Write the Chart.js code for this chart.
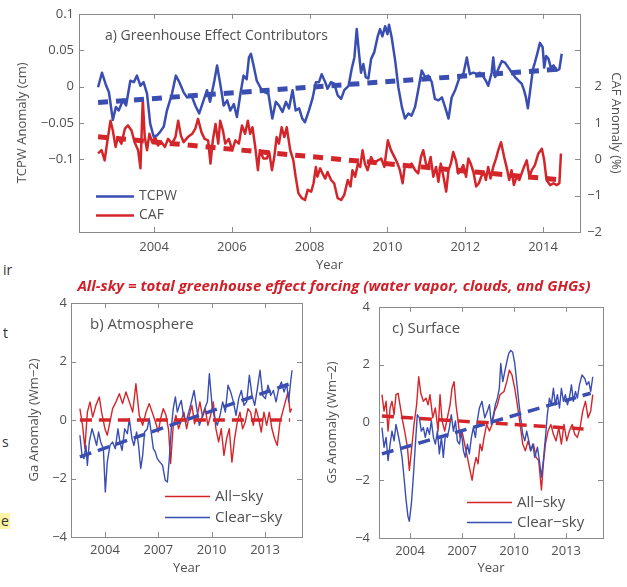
<!DOCTYPE html>
<html>
<head>
<meta charset="utf-8">
<script src="https://cdn.jsdelivr.net/npm/chart.js@4.4.1/dist/chart.umd.min.js"></script>
<style>
  body { margin: 0; background: #fff; width: 627px; height: 587px; position: relative; overflow: hidden; font-family: 'Open Sans', sans-serif; }
  canvas { position: absolute; }
  .frag { position: absolute; font-size: 14px; color: #333; line-height: 16px; }
  #caption { position: absolute; left: 0; top: 275px; width: 668px; text-align: center; color: #d0202a;
             font: italic bold 15px 'Open Sans', sans-serif; line-height: 20px; }
</style>
</head>
<body>
<div class="frag" style="left:3px;top:262px">ir</div>
<div class="frag" style="left:3px;top:325px">t</div>
<div class="frag" style="left:2px;top:434px">s</div>
<div class="frag" style="left:0;top:513px;background:#fbf3a6;padding:0 1px">e</div>
<canvas id="chartA" width="627" height="278" style="left:0;top:0"></canvas>
<canvas id="chartB" width="310" height="297" style="left:0;top:290px"></canvas>
<canvas id="chartC" width="317" height="297" style="left:310px;top:290px"></canvas>
<div id="caption">All-sky = total greenhouse effect forcing (water vapor, clouds, and GHGs)</div>
<script>
// ---- a) Greenhouse Effect Contributors ----
const tcpwYears = [
  2002.56, 2002.66, 2002.77, 2002.84, 2002.94, 2003.02, 2003.09, 2003.20, 2003.28, 2003.39,
  2003.48, 2003.56, 2003.65, 2003.73, 2003.82, 2003.90, 2003.99, 2004.08, 2004.16, 2004.25,
  2004.33, 2004.46, 2004.56, 2004.65, 2004.76, 2004.85, 2004.96, 2005.06, 2005.16, 2005.26,
  2005.36, 2005.44, 2005.55, 2005.62, 2005.70, 2005.79, 2005.88, 2005.96, 2006.05, 2006.13,
  2006.22, 2006.30, 2006.38, 2006.44, 2006.49, 2006.55, 2006.64, 2006.75, 2006.85, 2006.94,
  2007.04, 2007.13, 2007.21, 2007.30, 2007.39, 2007.47, 2007.56, 2007.64, 2007.73, 2007.81,
  2007.88, 2007.98, 2008.07, 2008.16, 2008.24, 2008.31, 2008.40, 2008.46, 2008.55, 2008.63,
  2008.72, 2008.81, 2008.89, 2009.00, 2009.08, 2009.15, 2009.21, 2009.27, 2009.32, 2009.38,
  2009.44, 2009.51, 2009.58, 2009.66, 2009.75, 2009.81, 2009.87, 2009.94, 2010.00, 2010.04,
  2010.11, 2010.20, 2010.28, 2010.37, 2010.45, 2010.54, 2010.62, 2010.71, 2010.79, 2010.88,
  2010.97, 2011.05, 2011.14, 2011.22, 2011.31, 2011.40, 2011.48, 2011.57, 2011.65, 2011.74,
  2011.87, 2011.95, 2012.04, 2012.12, 2012.21, 2012.30, 2012.38, 2012.47, 2012.53, 2012.59,
  2012.68, 2012.72, 2012.77, 2012.85, 2012.94, 2013.02, 2013.11, 2013.20, 2013.28, 2013.37,
  2013.45, 2013.51, 2013.56, 2013.61, 2013.67, 2013.74, 2013.79, 2013.85, 2013.92, 2013.99,
  2014.03, 2014.08, 2014.14, 2014.20, 2014.27, 2014.35, 2014.42, 2014.48
];
const tcpwValues = [
  -0.001, 0.019, 0.001, -0.008, -0.046, -0.028, -0.033, -0.019, -0.026, 0.008,
  0.006, 0.015, 0.001, 0.006, -0.010, -0.051, -0.069, -0.067, -0.062, -0.055,
  -0.033, -0.010, 0.015, 0.006, -0.008, -0.015, -0.012, -0.026, -0.037, -0.021,
  -0.005, -0.021, 0.008, 0.029, 0.004, -0.026, -0.019, -0.033, -0.024, -0.042,
  -0.010, 0.015, 0.010, 0.040, 0.045, 0.031, 0.008, -0.003, -0.008, -0.010,
  -0.044, -0.021, -0.026, -0.035, -0.021, -0.030, -0.005, -0.033, -0.030, -0.044,
  -0.049, -0.033, -0.017, 0.006, 0.006, 0.017, 0.006, -0.003, 0.006, 0.004,
  -0.012, -0.017, -0.005, 0.001, 0.024, 0.040, 0.079, 0.045, 0.019, 0.031,
  0.013, 0.011, 0.038, 0.047, 0.069, 0.079, 0.069, 0.083, 0.072, 0.085,
  0.067, 0.035, -0.001, -0.028, -0.044, -0.037, -0.040, -0.028, -0.005, 0.022,
  0.013, 0.015, 0.006, -0.017, -0.019, -0.015, -0.028, -0.044, -0.015, -0.005,
  0.015, 0.017, 0.040, 0.017, 0.019, 0.017, 0.019, 0.013, 0.008, 0.001,
  0.019, 0.040, 0.013, 0.024, 0.035, 0.033, 0.026, 0.019, 0.013, 0.008,
  0.004, -0.005, -0.015, -0.030, -0.005, 0.024, 0.033, 0.045, 0.060, 0.054,
  0.026, 0.042, 0.038, 0.026, 0.029, 0.022, 0.024, 0.045
];
const cafYears = [
  2002.56, 2002.65, 2002.73, 2002.79, 2002.88, 2002.94, 2003.01, 2003.07, 2003.16, 2003.25,
  2003.33, 2003.42, 2003.50, 2003.59, 2003.65, 2003.71, 2003.76, 2003.82, 2003.88, 2003.95,
  2004.03, 2004.10, 2004.19, 2004.28, 2004.36, 2004.46, 2004.55, 2004.62, 2004.69, 2004.76,
  2004.87, 2004.98, 2005.06, 2005.13, 2005.22, 2005.30, 2005.39, 2005.45, 2005.51, 2005.58,
  2005.65, 2005.70, 2005.77, 2005.83, 2005.92, 2006.01, 2006.09, 2006.18, 2006.26, 2006.34,
  2006.41, 2006.47, 2006.53, 2006.60, 2006.67, 2006.72, 2006.81, 2006.90, 2006.96, 2007.03,
  2007.09, 2007.15, 2007.21, 2007.28, 2007.35, 2007.41, 2007.50, 2007.58, 2007.64, 2007.71,
  2007.80, 2007.88, 2007.95, 2008.04, 2008.10, 2008.16, 2008.20, 2008.27, 2008.33, 2008.40,
  2008.46, 2008.55, 2008.63, 2008.72, 2008.81, 2008.89, 2008.98, 2009.05, 2009.10, 2009.17,
  2009.24, 2009.30, 2009.36, 2009.42, 2009.49, 2009.58, 2009.66, 2009.75, 2009.84, 2009.92,
  2010.01, 2010.09, 2010.18, 2010.26, 2010.32, 2010.39, 2010.45, 2010.54, 2010.62, 2010.71,
  2010.79, 2010.86, 2010.92, 2010.99, 2011.05, 2011.11, 2011.18, 2011.25, 2011.31, 2011.37,
  2011.44, 2011.51, 2011.57, 2011.63, 2011.69, 2011.76, 2011.82, 2011.88, 2011.95, 2012.02,
  2012.08, 2012.14, 2012.21, 2012.28, 2012.35, 2012.41, 2012.48, 2012.53, 2012.59, 2012.65,
  2012.72, 2012.79, 2012.85, 2012.92, 2013.00, 2013.07, 2013.13, 2013.19, 2013.25, 2013.32,
  2013.39, 2013.45, 2013.51, 2013.58, 2013.65, 2013.71, 2013.79, 2013.88, 2013.97, 2014.03,
  2014.09, 2014.18, 2014.27, 2014.35, 2014.42, 2014.46
];
const cafValues = [
  0.16, 0.25, -0.03, 0.43, 1.06, 0.79, 0.34, 0.61, 0.43, 0.84,
  0.93, 0.79, 0.47, 0.25, -0.25, 1.65, 0.61, 0.25, 0.70, 0.47,
  0.61, 0.38, 0.47, 0.34, 0.56, 0.43, 0.61, 1.06, 0.65, 0.47,
  0.61, 0.70, 0.84, 1.11, 0.74, 0.56, 0.52, -0.12, 0.52, 0.97,
  0.43, 1.06, 0.79, 0.43, 0.56, 0.25, 0.52, 0.43, 0.93, 0.70,
  1.06, 0.70, 0.88, 0.34, -0.30, 0.25, 0.02, 0.02, 0.20, -0.30,
  0.06, 0.61, 0.43, 0.88, 0.61, 0.88, 0.25, -0.03, -0.48, -0.93,
  -1.07, -1.12, -0.84, -0.89, -0.66, -0.21, -0.48, -0.25, -0.39, -0.53,
  -0.35, -0.57, -0.66, -1.07, -1.12, -0.98, -0.57, -0.75, -0.30, -0.48,
  -0.12, -0.21, 0.25, -0.12, -0.30, 0.06, -0.12, -0.03, 0.02, -0.21,
  0.52, 0.25, 0.06, -0.12, -0.30, -0.66, -0.16, -0.21, -0.12, -0.30,
  -0.39, 0.06, 0.25, -0.12, -0.21, 0.06, -0.48, -0.21, -0.62, -0.12,
  -0.48, -0.89, -0.30, -0.12, 0.20, -0.03, -0.39, -0.30, -0.16, -0.48,
  0.02, -0.12, -0.35, -0.75, -0.66, -0.48, -0.35, -0.57, -0.21, -0.53,
  -0.21, 0.02, 0.25, 0.47, 0.06, -0.25, -0.57, -0.30, -0.71, -0.48,
  -0.57, -0.39, -0.21, -0.03, -0.48, -0.30, -0.16, 0.16, 0.29, -0.03,
  -0.57, -0.71, -0.66, -0.71, -0.66, 0.16
];
const trendYearsA = [2002.56, 2014.46];
const tcpwTrend = [-0.022, 0.024];
const cafTrend = [0.62, -0.57];
const yearTicksA = [2004, 2006, 2008, 2010, 2012, 2014];
const tcpwTicks = [-0.1, -0.05, 0, 0.05, 0.1];
const cafTicks = [-2, -1, 0, 1, 2, 3];
const cafTickLabels = ['\u22122', '\u22121', '0', '1', '2', ''];

// ---- b) Atmosphere ----
const atmAllYears = [
  2002.59, 2002.74, 2002.87, 2003.01, 2003.16, 2003.31, 2003.49, 2003.68, 2003.81, 2004.00,
  2004.13, 2004.28, 2004.43, 2004.62, 2004.81, 2004.99, 2005.18, 2005.37, 2005.56, 2005.74,
  2005.93, 2006.12, 2006.31, 2006.49, 2006.68, 2006.87, 2007.00, 2007.13, 2007.28, 2007.43,
  2007.58, 2007.69, 2007.84, 2007.99, 2008.14, 2008.29, 2008.44, 2008.59, 2008.74, 2008.89,
  2009.04, 2009.19, 2009.34, 2009.49, 2009.64, 2009.79, 2009.94, 2010.09, 2010.24, 2010.39,
  2010.54, 2010.69, 2010.84, 2010.99, 2011.14, 2011.29, 2011.44, 2011.59, 2011.74, 2011.89,
  2012.04, 2012.19, 2012.34, 2012.49, 2012.64, 2012.79, 2012.94, 2013.09, 2013.24, 2013.39,
  2013.54, 2013.69, 2013.84, 2013.99, 2014.14, 2014.29, 2014.41, 2014.50
];
const atmAllSky = [
  0.39, -0.18, -0.98, 0.27, 0.62, 0.10, 0.50, 0.79, 0.27, -0.30,
  -0.52, -0.07, 0.39, 0.62, 0.90, 0.56, 0.96, 0.62, 0.27, 1.24,
  0.16, -0.18, 0.27, 0.56, 0.22, -0.13, -0.41, 0.05, 0.39, 0.16,
  -0.35, -1.49, -0.18, 0.16, -0.30, -0.01, 0.27, -0.30, 0.16, 0.50,
  -0.13, 0.16, 0.62, 0.10, 0.39, -0.18, 0.16, 0.62, -0.30, -0.75,
  -0.30, -1.21, -0.64, -0.30, -1.44, -0.64, -0.07, 0.27, -0.30, -0.07,
  0.39, 0.27, -0.18, 0.39, 0.05, -0.41, 0.27, -0.18, 0.27, -0.30,
  -0.64, -0.87, -0.07, 0.27, 0.62, 0.96, 0.27, 0.39
];
const atmClearYears = [
  2002.59, 2002.71, 2002.82, 2002.93, 2003.01, 2003.12, 2003.27, 2003.38, 2003.53, 2003.64,
  2003.76, 2003.91, 2004.02, 2004.13, 2004.28, 2004.43, 2004.58, 2004.73, 2004.84, 2004.96,
  2005.11, 2005.26, 2005.37, 2005.52, 2005.63, 2005.78, 2005.89, 2006.01, 2006.12, 2006.23,
  2006.38, 2006.49, 2006.61, 2006.72, 2006.83, 2006.94, 2007.09, 2007.24, 2007.39, 2007.51,
  2007.62, 2007.73, 2007.84, 2007.96, 2008.07, 2008.18, 2008.29, 2008.41, 2008.56, 2008.71,
  2008.86, 2009.01, 2009.16, 2009.31, 2009.46, 2009.61, 2009.76, 2009.87, 2010.02, 2010.17,
  2010.32, 2010.47, 2010.62, 2010.77, 2010.92, 2011.07, 2011.22, 2011.37, 2011.52, 2011.67,
  2011.82, 2011.97, 2012.12, 2012.27, 2012.42, 2012.57, 2012.72, 2012.87, 2013.02, 2013.17,
  2013.32, 2013.47, 2013.62, 2013.77, 2013.92, 2014.07, 2014.22, 2014.33, 2014.44, 2014.52
];
const atmClearSky = [
  -0.52, -1.21, -1.32, -0.87, -1.55, -0.75, -0.30, -0.52, -0.87, -0.41,
  -0.75, -0.98, -2.46, -1.44, -0.87, -0.75, -0.98, -0.30, -0.75, -1.04,
  -0.30, -0.47, 0.05, -0.64, -0.87, -0.41, -0.87, -1.66, -1.21, -0.41,
  -0.30, 0.05, -0.47, -0.98, -1.09, -1.32, -1.44, -1.55, -2.06, -2.12,
  -1.32, -0.30, 0.39, 0.79, 0.27, 0.50, 0.67, 0.16, -0.07, 0.27,
  0.62, 1.01, 0.39, -0.18, 0.10, 0.39, 0.62, 1.58, 0.50, 0.05,
  -0.18, 0.16, 0.62, 0.27, 1.19, 0.96, 0.62, 0.16, 0.73, 1.01,
  0.50, 0.62, 1.53, 0.84, 0.50, 1.07, 1.70, 0.84, 0.73, 1.19,
  0.84, 1.01, 0.62, 1.07, 1.30, 0.96, 1.24, 0.62, 1.30, 1.70
];
const atmTrendYears = [2002.59, 2014.41];
const atmAllTrend = [0.0, 0.0];
const atmClearTrend = [-1.26, 1.24];

// ---- c) Surface ----
const sfcAllYears = [
  2002.38, 2002.50, 2002.62, 2002.73, 2002.85, 2002.96, 2003.08, 2003.19, 2003.31, 2003.42,
  2003.54, 2003.69, 2003.85, 2003.96, 2004.08, 2004.23, 2004.38, 2004.50, 2004.62, 2004.77,
  2004.92, 2005.04, 2005.15, 2005.31, 2005.46, 2005.62, 2005.73, 2005.85, 2006.00, 2006.15,
  2006.31, 2006.42, 2006.54, 2006.65, 2006.77, 2006.88, 2007.00, 2007.15, 2007.31, 2007.46,
  2007.58, 2007.69, 2007.81, 2007.92, 2008.04, 2008.15, 2008.27, 2008.42, 2008.58, 2008.73,
  2008.88, 2009.04, 2009.19, 2009.42, 2009.58, 2009.73, 2009.88, 2010.04, 2010.19, 2010.35,
  2010.50, 2010.65, 2010.81, 2010.96, 2011.12, 2011.27, 2011.42, 2011.58, 2011.69, 2011.81,
  2011.96, 2012.12, 2012.27, 2012.42, 2012.58, 2012.73, 2012.88, 2013.04, 2013.19, 2013.35,
  2013.50, 2013.65, 2013.81, 2013.96, 2014.12, 2014.27, 2014.42, 2014.54
];
const sfcAllSky = [
  0.96, 0.39, 0.73, -0.30, 0.50, 0.73, 0.27, 0.96, 1.01, 0.61,
  0.16, -0.30, -0.86, -1.66, -0.98, -0.07, 0.61, 1.58, 1.01, 0.73,
  0.84, 0.61, 0.96, 0.16, 0.50, -0.30, 0.96, 0.05, -0.30, 0.16,
  0.61, 1.18, 1.41, 0.61, 0.05, -0.52, -0.30, -0.75, -1.21, -1.66,
  -2.00, -1.55, -1.21, -1.43, -0.75, -0.98, -0.52, -0.07, -0.30, -0.07,
  0.39, 0.61, 0.96, 1.07, 1.41, 1.81, 1.64, 1.18, 0.61, -0.07,
  -0.75, -0.98, -0.64, -0.98, -0.75, -1.21, -1.32, -2.34, -1.43, -0.75,
  -0.30, -0.07, -0.41, -0.64, -0.18, -0.75, -0.07, -0.64, -0.30, -0.07,
  -0.41, -0.52, -0.18, 0.39, 0.73, 0.16, 0.39, 0.96
];
const sfcClearYears = [
  2002.38, 2002.50, 2002.62, 2002.73, 2002.85, 2002.96, 2003.08, 2003.19, 2003.31, 2003.42,
  2003.54, 2003.65, 2003.77, 2003.88, 2003.96, 2004.08, 2004.19, 2004.31, 2004.42, 2004.54,
  2004.65, 2004.77, 2004.88, 2005.00, 2005.12, 2005.23, 2005.35, 2005.46, 2005.58, 2005.69,
  2005.81, 2005.92, 2006.04, 2006.15, 2006.27, 2006.38, 2006.50, 2006.62, 2006.73, 2006.85,
  2006.96, 2007.08, 2007.19, 2007.31, 2007.42, 2007.54, 2007.65, 2007.77, 2007.88, 2008.00,
  2008.15, 2008.31, 2008.46, 2008.58, 2008.69, 2008.81, 2008.92, 2009.04, 2009.15, 2009.23,
  2009.35, 2009.46, 2009.58, 2009.69, 2009.81, 2009.92, 2010.04, 2010.15, 2010.27, 2010.38,
  2010.50, 2010.62, 2010.73, 2010.85, 2010.96, 2011.08, 2011.19, 2011.35, 2011.46, 2011.58,
  2011.69, 2011.81, 2011.92, 2012.04, 2012.15, 2012.27, 2012.38, 2012.50, 2012.62, 2012.73,
  2012.85, 2012.96, 2013.08, 2013.19, 2013.31, 2013.42, 2013.54, 2013.65, 2013.77, 2013.92,
  2014.08, 2014.19, 2014.31, 2014.42, 2014.54
];
const sfcClearSky = [
  -0.18, -0.86, -0.52, -1.32, -0.75, -0.30, -0.64, -0.07, -0.41, -0.75,
  -1.21, -1.89, -2.68, -3.25, -3.42, -2.80, -1.89, -0.75, 0.27, 0.16,
  -0.30, -0.18, -0.52, -0.18, -0.41, 0.05, -0.52, -0.75, -0.30, -1.09,
  -0.52, -1.21, -0.41, -0.52, -0.18, 0.27, -0.30, 0.05, -0.64, -0.75,
  -0.30, -0.98, -1.21, -0.75, -1.09, -0.52, -0.18, -0.52, 0.05, 0.50,
  0.73, 0.16, 0.39, 0.61, -0.07, 0.27, 0.61, 0.84, 1.18, 2.04,
  1.41, 1.75, 2.09, 2.38, 2.49, 2.43, 2.04, 1.41, 0.73, 0.16,
  -0.41, -0.64, -0.30, -0.64, -0.98, -0.75, -1.21, -0.86, -1.32, -1.89,
  -1.32, -0.52, 0.27, 0.84, 0.61, 1.18, 0.61, 0.96, 0.50, 1.18,
  0.73, 0.96, 0.61, 0.84, 1.30, 0.73, 1.07, 0.84, 1.30, 1.64,
  1.52, 1.30, 1.41, 1.07, 1.58
];
const sfcTrendYears = [2002.38, 2014.42];
const sfcAllTrend = [0.22, -0.24];
const sfcClearTrend = [-1.09, 1.01];

const yearTicksBC = [2004, 2007, 2010, 2013];
const gTicks = [-4, -2, 0, 2, 4];

const BLUE = 'rgb(58,78,178)';
const RED = 'rgb(212,38,42)';
const TEXT = '#505050';
const FRAME = '#8a8a8a';

Chart.defaults.font.family = "'Open Sans', sans-serif";
Chart.defaults.font.size = 13;
Chart.defaults.color = TEXT;

const pts = (xs, ys) => xs.map((x, i) => ({ x: x, y: ys[i] }));
const fmt = v => (v < 0 ? '\u2212' : '') + Math.abs(v);

function line(label, xs, ys, color, width, order) {
  return { label: label, data: pts(xs, ys), borderColor: color, borderWidth: width, order: order,
           pointRadius: 0, tension: 0, borderJoinStyle: 'round', fill: false };
}
function trend(xs, ys, color, width, dash) {
  return { label: '', data: pts(xs, ys), borderColor: color, borderWidth: width, order: 0,
           borderDash: dash, borderCapStyle: 'butt', pointRadius: 0, fill: false };
}

function xAxis(min, max, ticks, height, labelPad, titlePad) {
  return {
    type: 'linear', min: min, max: max,
    grid: { display: false, drawTicks: false }, border: { display: false },
    afterBuildTicks: s => { s.ticks = ticks.map(v => ({ value: v })); },
    afterFit: s => { s.height = height; },
    ticks: { padding: labelPad, autoSkip: false, maxRotation: 0, callback: v => String(v) },
    title: { display: true, text: 'Year', padding: { top: 0, bottom: titlePad } }
  };
}
function yAxis(pos, min, max, ticks, labels, width, labelPad, title, titlePad, crossAlign) {
  return {
    type: 'linear', position: pos, min: min, max: max,
    grid: { display: false, drawTicks: false }, border: { display: false },
    afterBuildTicks: s => { s.ticks = ticks.map(v => ({ value: v })); },
    afterFit: s => { s.width = width; },
    ticks: { padding: labelPad, crossAlign: crossAlign || 'near',
             callback: (v, i) => labels ? labels[i] : fmt(v) },
    title: { display: true, text: title, padding: { top: titlePad, bottom: 0 } }
  };
}

// matlab-like frame: box, inward ticks, panel label and legend
const framePlugin = {
  id: 'frame',
  afterDatasetsDraw(chart, args, o) {
    const { ctx, chartArea: a, scales } = chart;
    const L = 5;
    ctx.save();
    ctx.strokeStyle = FRAME;
    ctx.lineWidth = 1;
    ctx.strokeRect(Math.round(a.left) + 0.5, Math.round(a.top) + 0.5, Math.round(a.width), Math.round(a.height));
    ctx.beginPath();
    scales.x.ticks.forEach(t => {
      const p = Math.round(scales.x.getPixelForValue(t.value)) + 0.5;
      ctx.moveTo(p, a.bottom); ctx.lineTo(p, a.bottom - L);
      ctx.moveTo(p, a.top); ctx.lineTo(p, a.top + L);
    });
    scales.y.ticks.forEach(t => {
      const p = Math.round(scales.y.getPixelForValue(t.value)) + 0.5;
      ctx.moveTo(a.left, p); ctx.lineTo(a.left + L, p);
      if (!scales.y1) { ctx.moveTo(a.right, p); ctx.lineTo(a.right - L, p); }
    });
    if (scales.y1) {
      scales.y1.ticks.forEach(t => {
        const p = Math.round(scales.y1.getPixelForValue(t.value)) + 0.5;
        ctx.moveTo(a.right, p); ctx.lineTo(a.right - L, p);
      });
    }
    ctx.stroke();

    ctx.fillStyle = TEXT;
    ctx.textBaseline = 'middle';
    ctx.textAlign = 'left';
    ctx.font = o.titleFont;
    ctx.fillText(o.title, a.left + o.titleX, a.top + o.titleY);

    ctx.font = o.legendFont;
    o.legend.forEach((idx, i) => {
      const ds = chart.data.datasets[idx];
      const y = Math.round(a.top + o.legendY + i * o.legendGap) + 0.5;
      ctx.strokeStyle = ds.borderColor;
      ctx.lineWidth = o.legendWidth;
      ctx.beginPath();
      ctx.moveTo(a.left + o.legendX, y);
      ctx.lineTo(a.left + o.legendX + o.legendLen, y);
      ctx.stroke();
      ctx.fillText(ds.label, a.left + o.legendX + o.legendLen + 5, y);
    });
    ctx.restore();
  }
};

const common = { responsive: false, animation: false, devicePixelRatio: 1 };

new Chart(document.getElementById('chartA'), {
  type: 'line',
  data: {
    datasets: [
      trend(trendYearsA, tcpwTrend, BLUE, 5, [10, 8]),
      Object.assign(trend(trendYearsA, cafTrend, RED, 5, [10, 8]), { yAxisID: 'y1' }),
      line('TCPW', tcpwYears, tcpwValues, BLUE, 2.5, 1),
      Object.assign(line('CAF', cafYears, cafValues, RED, 2.5, 2), { yAxisID: 'y1' })
    ]
  },
  options: Object.assign({}, common, {
    layout: { padding: { top: 13, right: 25, left: 0, bottom: 0 } },
    scales: {
      x: xAxis(2002.07, 2014.95, yearTicksA, 46, 7, 5),
      y: yAxis('left', -0.2, 0.1, tcpwTicks, null, 79, 5, 'TCPW Anomaly (cm)', 14),
      y1: yAxis('right', -2, 4, cafTicks, cafTickLabels, 22, 6, 'CAF Anomaly (%)', -21.8, 'far')
    },
    plugins: {
      legend: { display: false }, tooltip: { enabled: false },
      frame: { title: 'a) Greenhouse Effect Contributors', titleFont: "14px 'Open Sans'", titleX: 26, titleY: 22,
               legend: [2, 3], legendFont: "14px 'Open Sans'", legendX: 17, legendY: 182, legendGap: 19,
               legendLen: 38, legendWidth: 2.5 }
    }
  }),
  plugins: [framePlugin]
});

new Chart(document.getElementById('chartB'), {
  type: 'line',
  data: {
    datasets: [
      line('All\u2212sky', atmAllYears, atmAllSky, RED, 1.4, 2),
      line('Clear\u2212sky', atmClearYears, atmClearSky, BLUE, 1.4, 1),
      trend(atmTrendYears, atmAllTrend, RED, 3.5, [12, 7]),
      trend(atmTrendYears, atmClearTrend, BLUE, 3.5, [12, 7])
    ]
  },
  options: Object.assign({}, common, {
    layout: { padding: { top: 13, right: 8, left: 0, bottom: 0 } },
    scales: {
      x: xAxis(2002.09, 2015.08, yearTicksBC, 50, 5, 11),
      y: yAxis('left', -4, 4, gTicks, null, 71, 4, 'Ga Anomaly (Wm\u22122)', 26)
    },
    plugins: {
      legend: { display: false }, tooltip: { enabled: false },
      frame: { title: 'b) Atmosphere', titleFont: "15px 'Open Sans'", titleX: 19, titleY: 22,
               legend: [0, 1], legendFont: "15px 'Open Sans'", legendX: 94, legendY: 193, legendGap: 21,
               legendLen: 45, legendWidth: 1.4 }
    }
  }),
  plugins: [framePlugin]
});

new Chart(document.getElementById('chartC'), {
  type: 'line',
  data: {
    datasets: [
      line('All\u2212sky', sfcAllYears, sfcAllSky, RED, 1.4, 2),
      line('Clear\u2212sky', sfcClearYears, sfcClearSky, BLUE, 1.4, 1),
      trend(sfcTrendYears, sfcAllTrend, RED, 3.5, [12, 7]),
      trend(sfcTrendYears, sfcClearTrend, BLUE, 3.5, [12, 7])
    ]
  },
  options: Object.assign({}, common, {
    layout: { padding: { top: 13, right: 24, left: 0, bottom: 0 } },
    scales: {
      x: xAxis(2002.21, 2015.13, yearTicksBC, 49, 5, 11),
      y: yAxis('left', -4, 4, gTicks, null, 69, 9, 'Gs Anomaly (Wm\u22122)', 14)
    },
    plugins: {
      legend: { display: false }, tooltip: { enabled: false },
      frame: { title: 'c) Surface', titleFont: "15px 'Open Sans'", titleX: 13, titleY: 22,
               legend: [0, 1], legendFont: "15px 'Open Sans'", legendX: 88, legendY: 195, legendGap: 20,
               legendLen: 45, legendWidth: 1.4 }
    }
  }),
  plugins: [framePlugin]
});
</script>
</body>
</html>
